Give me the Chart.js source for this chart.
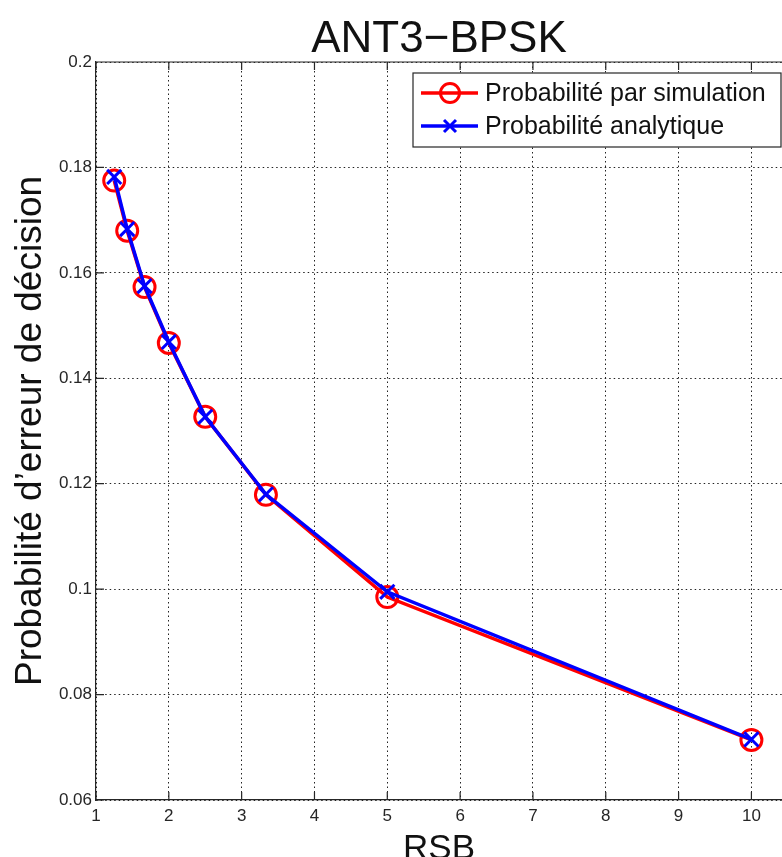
<!DOCTYPE html>
<html>
<head>
<meta charset="utf-8">
<title>ANT3-BPSK</title>
<script src="https://cdn.jsdelivr.net/npm/chart.js@4.4.1/dist/chart.umd.min.js"></script>
<style>
  html, body { margin: 0; padding: 0; background: #fff; }
  #wrap { width: 782px; height: 857px; position: relative; }
</style>
</head>
<body>
<div id="wrap"><canvas id="berChart"></canvas></div>
<script>
// values
const rsbValues = [1.25, 1.4286, 1.6667, 2, 2.5, 3.3333, 5, 10];
const probSimulation = [0.1775, 0.1680, 0.1573, 0.1467, 0.1327, 0.1179, 0.0985, 0.0714];
const probAnalytique = [0.1782, 0.1683, 0.1575, 0.1469, 0.1327, 0.1180, 0.0995, 0.0715];

const xTickValues = [1, 2, 3, 4, 5, 6, 7, 8, 9, 10];
const yTickValues = [0.06, 0.08, 0.1, 0.12, 0.14, 0.16, 0.18, 0.2];
const yTickLabels = ['0.06', '0.08', '0.1', '0.12', '0.14', '0.16', '0.18', '0.2'];
const seriesLabels = ['Probabilité par simulation', 'Probabilité analytique'];

const FONT = "'Liberation Sans', Arial, Helvetica, sans-serif";

const toPoints = (xs, ys) => xs.map((x, i) => ({ x: x, y: ys[i] }));

// top border + inward tick marks, MATLAB style
const frameTicks = {
    id: 'frameTicks',
    beforeDatasetsDraw(chart) {
        const { ctx, chartArea: a, scales: { x, y } } = chart;
        ctx.save();
        ctx.strokeStyle = '#262626';
        ctx.lineWidth = 1.2;
        ctx.beginPath();
        ctx.moveTo(a.left, a.top);
        ctx.lineTo(a.right, a.top);
        xTickValues.forEach(v => {
            const px = x.getPixelForValue(v);
            ctx.moveTo(px, a.bottom); ctx.lineTo(px, a.bottom - 8);
            ctx.moveTo(px, a.top); ctx.lineTo(px, a.top + 8);
        });
        yTickValues.forEach(v => {
            const py = y.getPixelForValue(v);
            ctx.moveTo(a.left, py); ctx.lineTo(a.left + 8, py);
        });
        ctx.stroke();
        ctx.restore();
    }
};

// boxed legend with line + marker samples
const boxLegend = {
    id: 'boxLegend',
    afterDraw(chart) {
        const { ctx } = chart;
        const bx = 413, by = 73, bw = 368, bh = 74;
        ctx.save();
        ctx.fillStyle = '#fff';
        ctx.fillRect(bx, by, bw, bh);
        ctx.strokeStyle = '#262626';
        ctx.lineWidth = 1.2;
        ctx.strokeRect(bx, by, bw, bh);

        const rows = [93, 126];
        chart.data.datasets.forEach((ds, i) => {
            const ry = rows[i];
            ctx.strokeStyle = ds.borderColor;
            ctx.lineWidth = 3.5;
            ctx.beginPath();
            ctx.moveTo(421, ry); ctx.lineTo(478, ry);
            ctx.stroke();
            ctx.lineWidth = 3;
            ctx.beginPath();
            if (ds.pointStyle === 'circle') {
                ctx.arc(450, ry, 9.5, 0, Math.PI * 2);
            } else {
                ctx.moveTo(444, ry - 6); ctx.lineTo(456, ry + 6);
                ctx.moveTo(444, ry + 6); ctx.lineTo(456, ry - 6);
            }
            ctx.stroke();
            ctx.fillStyle = '#111';
            ctx.font = '25px ' + FONT;
            ctx.textBaseline = 'middle';
            ctx.fillText(ds.label, 485, ry + 1);
        });
        ctx.restore();
    }
};

const ctx = document.getElementById('berChart').getContext('2d');

new Chart(ctx, {
    type: 'line',
    data: {
        datasets: [
            {
                label: seriesLabels[0],
                data: toPoints(rsbValues, probSimulation),
                borderColor: '#ff0000',
                backgroundColor: 'rgba(0,0,0,0)',
                borderWidth: 3.5,
                pointStyle: 'circle',
                pointRadius: 10.5,
                pointBorderWidth: 3,
                pointBorderColor: '#ff0000',
                pointBackgroundColor: 'rgba(0,0,0,0)',
                tension: 0,
                order: 1
            },
            {
                label: seriesLabels[1],
                data: toPoints(rsbValues, probAnalytique),
                borderColor: '#0000ff',
                backgroundColor: 'rgba(0,0,0,0)',
                borderWidth: 3.5,
                pointStyle: 'crossRot',
                pointRadius: 10,
                pointBorderWidth: 3,
                pointBorderColor: '#0000ff',
                tension: 0,
                order: 0
            }
        ]
    },
    options: {
        responsive: true,
        maintainAspectRatio: false,
        animation: false,
        layout: { padding: 0, autoPadding: false },
        plugins: {
            legend: { display: false },
            tooltip: { enabled: false },
            title: {
                display: true,
                text: 'ANT3\u2212BPSK',
                fullSize: false,
                color: '#111',
                font: { family: FONT, size: 44, weight: 'normal', lineHeight: 1.0 },
                padding: { top: 18, bottom: 0 }
            }
        },
        scales: {
            x: {
                type: 'linear',
                min: 1,
                max: 10.42,
                afterBuildTicks: s => { s.ticks = xTickValues.map(v => ({ value: v })); },
                afterFit: s => { s.height = 57; s.paddingLeft = 0; s.paddingRight = 0; },
                ticks: {
                    color: '#262626',
                    font: { family: FONT, size: 17 },
                    padding: 6,
                    maxRotation: 0,
                    callback: v => String(v)
                },
                grid: { color: '#222', lineWidth: 1, drawTicks: false },
                border: { color: '#262626', width: 1.2, dash: [1.5, 3] },
                title: {
                    display: true,
                    text: 'RSB',
                    color: '#111',
                    font: { family: FONT, size: 35, lineHeight: 1.0 },
                    padding: { top: 0, bottom: -10 }
                }
            },
            y: {
                type: 'linear',
                min: 0.06,
                max: 0.2,
                afterBuildTicks: s => { s.ticks = yTickValues.map(v => ({ value: v })); },
                afterFit: s => { s.width = 96; s.paddingTop = 0; s.paddingBottom = 0; },
                ticks: {
                    color: '#262626',
                    font: { family: FONT, size: 17 },
                    padding: 4,
                    callback: (v, i) => yTickLabels[i]
                },
                grid: { color: '#222', lineWidth: 1, drawTicks: false },
                border: { color: '#262626', width: 1.2, dash: [1.5, 3] },
                title: {
                    display: true,
                    text: 'Probabilité d\u2019erreur de décision',
                    color: '#111',
                    font: { family: FONT, size: 37, lineHeight: 1.2 },
                    padding: { top: 9, bottom: 0 }
                }
            }
        }
    },
    plugins: [frameTicks, boxLegend]
});
</script>
</body>
</html>
